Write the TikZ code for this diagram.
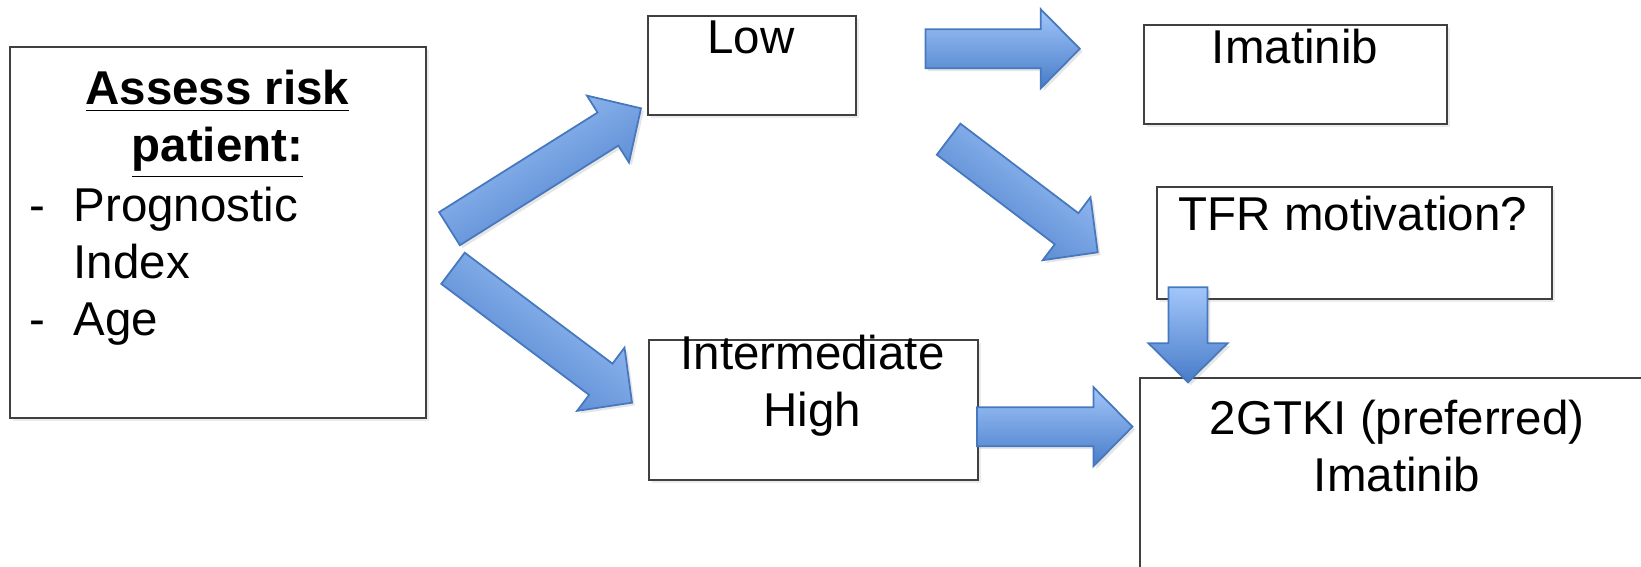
\documentclass[tikz,border=0pt]{standalone}
\usepackage{fontspec}
\setmainfont{Liberation Sans}
\usepackage{tikz}
\usetikzlibrary{calc,shadows}
\definecolor{arrowlight}{RGB}{162,198,250}
\definecolor{arrowdark}{RGB}{72,124,200}
\definecolor{arrowline}{RGB}{70,120,190}
\definecolor{boxline}{RGB}{64,64,64}
\tikzstyle{plainbox} = [rectangle, draw=boxline, line width=0.6pt, fill=white, anchor=north west, inner sep=0pt, drop shadow={shadow xshift=0.8pt, shadow yshift=-0.8pt, opacity=0.15}]
\tikzstyle{boxtext} = [inner sep=0pt, anchor=base, font=\fontsize{13.5}{16.2}\selectfont]
\tikzstyle{bigarrow} = [draw=arrowline, line width=0.5pt, top color=arrowlight, bottom color=arrowdark, drop shadow={shadow xshift=0.8pt, shadow yshift=-0.8pt, opacity=0.2}]
%% block arrow: [shading angle] {tail} {tip}
\newcommand{\blockarrow}[3][0]{%
    \coordinate (hb) at ($(#3)!0.39cm!(#2)$);
    \shade[bigarrow, shading angle=#1]
        ($(#2)!0.195cm!90:(#3)$) -- ($(hb)!0.195cm!-90:(#2)$) -- ($(hb)!0.395cm!-90:(#2)$)
        -- (#3) -- ($(hb)!0.395cm!90:(#2)$) -- ($(hb)!0.195cm!90:(#2)$)
        -- ($(#2)!0.195cm!-90:(#3)$) -- cycle;
}

\begin{document}
\begin{tikzpicture}[x=0.01cm, y=-0.01cm]

        \clip (0,0) rectangle (1641,567);

        %% boxes
        \node (assess) [plainbox, minimum width=4.16cm, minimum height=3.71cm] at (9,46) {};
        \node (low) [plainbox, minimum width=2.08cm, minimum height=0.99cm] at (647,15) {};
        \node (imat) [plainbox, minimum width=3.03cm, minimum height=0.99cm] at (1143,24) {};
        \node (tfr) [plainbox, minimum width=3.95cm, minimum height=1.12cm] at (1156,186) {};
        \node (inter) [plainbox, minimum width=3.29cm, minimum height=1.40cm] at (648,339) {};
        \node (tki) [plainbox, minimum width=5.16cm, minimum height=2.43cm] at (1139,377) {};

        %% texts
        \node (assesstitle) [boxtext] at (217.5,105) {\begin{tabular}[t]{@{}c@{}}
            \bfseries\underline{Assess risk} \\
            \bfseries\underline{patient:}
        \end{tabular}};
        \node (assesslist) [boxtext, anchor=base west] at (28.7,221.7) {\begin{tabular}[t]{@{}p{0.443cm}@{}l@{}}
            - & Prognostic \\
              & Index \\
            - & Age
        \end{tabular}};
        \node (lowtext) [boxtext] at (751,53.3) {Low};
        \node (imattext) [boxtext] at (1295,63.3) {Imatinib};
        \node (tfrtext) [boxtext] at (1353,231) {TFR motivation?};
        \node (intertext) [boxtext] at (812.5,369.3) {\begin{tabular}[t]{@{}c@{}}
            Intermediate \\
            High
        \end{tabular}};
        \node (tkitext) [boxtext] at (1397,435) {\begin{tabular}[t]{@{}c@{}}
            2GTKI (preferred) \\
            Imatinib
        \end{tabular}};

        %% arrow ends
        \coordinate (a1) at (449.5,228.7);  \coordinate (b1) at (641,108.3);
        \coordinate (a2) at (453,268.3);    \coordinate (b2) at (632,402.7);
        \coordinate (a3) at (925.4,48.8);   \coordinate (b3) at (1079.8,48.8);
        \coordinate (a4) at (948.6,139.2);  \coordinate (b4) at (1097.7,252.3);
        \coordinate (a5) at (977,426.7);    \coordinate (b5) at (1132.5,426.7);
        \coordinate (a6) at (1188,287.3);   \coordinate (b6) at (1188,382.3);

        %% arrows
        \blockarrow[32]{a1}{b1}
        \blockarrow[-37]{a2}{b2}
        \blockarrow{a3}{b3}
        \blockarrow[-37]{a4}{b4}
        \blockarrow{a5}{b5}
        \blockarrow{a6}{b6}

\end{tikzpicture}
\end{document}
